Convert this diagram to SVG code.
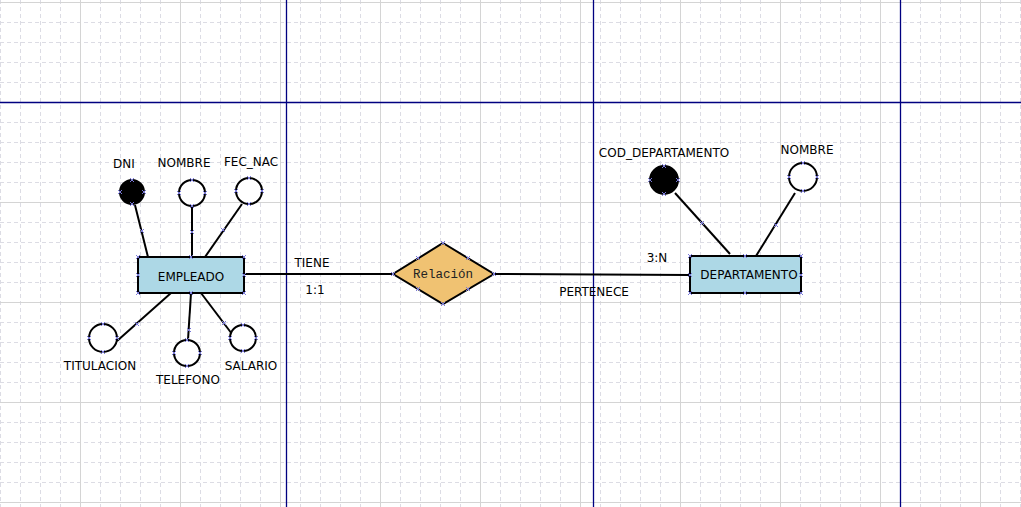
<svg xmlns="http://www.w3.org/2000/svg" xmlns:xlink="http://www.w3.org/1999/xlink" width="1021" height="507" viewBox="0 0 1021 507">
<style>
.gd{stroke:#dcdce4;stroke-width:1;stroke-dasharray:4,3;fill:none}
.gs{stroke:#d4d4d4;stroke-width:1;fill:none}
.gb{stroke:#000080;stroke-width:1.3;fill:none}
.ent{fill:#add8e6;stroke:#000;stroke-width:2}
.att{fill:#fff;stroke:#000;stroke-width:2}
.key{fill:#000;stroke:#000;stroke-width:2}
.rel{fill:#f0c272;stroke:#000;stroke-width:2}
.ln{stroke:#000;stroke-width:2;fill:none}
.t{font-family:"DejaVu Sans","Liberation Sans",sans-serif;font-size:12px;fill:#000;text-anchor:middle}
.m{font-family:"Liberation Mono","DejaVu Sans Mono",monospace;font-size:12.5px;fill:#222;text-anchor:middle}
.xm{stroke:#7a7ad8;stroke-width:1;fill:none}
</style>
<defs>
<path id="x" class="xm" d="M-2-2L2 2M-2 2L2-2"/>
</defs>
<rect width="1021" height="507" fill="#fff"/>
<g id="grid">
<path class="gd" d="M0.5 0V507M20.5 0V507M40.5 0V507M60.5 0V507M100.5 0V507M120.5 0V507M140.5 0V507M160.5 0V507M200.5 0V507M220.5 0V507M240.5 0V507M260.5 0V507M300.5 0V507M320.5 0V507M340.5 0V507M360.5 0V507M400.5 0V507M420.5 0V507M440.5 0V507M460.5 0V507M500.5 0V507M520.5 0V507M540.5 0V507M560.5 0V507M600.5 0V507M620.5 0V507M640.5 0V507M660.5 0V507M700.5 0V507M720.5 0V507M740.5 0V507M760.5 0V507M800.5 0V507M820.5 0V507M840.5 0V507M860.5 0V507M900.5 0V507M920.5 0V507M940.5 0V507M960.5 0V507M1000.5 0V507M1020.5 0V507"/>
<path class="gd" d="M0 22.5H1021M0 42.5H1021M0 62.5H1021M0 82.5H1021M0 122.5H1021M0 142.5H1021M0 162.5H1021M0 182.5H1021M0 222.5H1021M0 242.5H1021M0 262.5H1021M0 282.5H1021M0 322.5H1021M0 342.5H1021M0 362.5H1021M0 382.5H1021M0 422.5H1021M0 442.5H1021M0 462.5H1021M0 482.5H1021"/>
<path class="gs" d="M80.5 0V507M180.5 0V507M280.5 0V507M380.5 0V507M480.5 0V507M580.5 0V507M680.5 0V507M780.5 0V507M880.5 0V507M980.5 0V507M0 2.5H1021M0 202.5H1021M0 302.5H1021M0 402.5H1021M0 502.5H1021"/>
<path class="gb" d="M286.5 0V507M593.5 0V507M900.5 0V507M0 102.5H1021"/>
</g>
<g id="connectors">
<path class="ln" d="M135 205L148 257"/>
<path class="ln" d="M192 206V257"/>
<path class="ln" d="M242 204L205 257" stroke-width="1.6"/>
<path class="ln" d="M171 293L117 341"/>
<path class="ln" d="M191 293L188 340" stroke-width="2.4"/>
<path class="ln" d="M201 293L232 334" stroke-width="1.6"/>
<path class="ln" d="M244 274H393"/>
<path class="ln" d="M494 274L690 275"/>
<path class="ln" d="M675 193L730 254"/>
<path class="ln" d="M795 193L756 256" stroke-width="1.6"/>
<use xlink:href="#x" x="142" y="231"/>
<use xlink:href="#x" x="192" y="232"/>
<use xlink:href="#x" x="223" y="230"/>
<use xlink:href="#x" x="137" y="324"/>
<use xlink:href="#x" x="189" y="330"/>
<use xlink:href="#x" x="224" y="323"/>
<use xlink:href="#x" x="702" y="223"/>
<use xlink:href="#x" x="776" y="225"/>
</g>
<g id="empleado">
<rect class="ent" x="138" y="257" width="106" height="36"/>
<text class="t" x="191" y="281">EMPLEADO</text>
<use xlink:href="#x" x="138" y="257"/><use xlink:href="#x" x="191" y="257"/><use xlink:href="#x" x="244" y="257"/>
<use xlink:href="#x" x="138" y="275"/><use xlink:href="#x" x="244" y="275"/>
<use xlink:href="#x" x="138" y="293"/><use xlink:href="#x" x="191" y="293"/><use xlink:href="#x" x="244" y="293"/>
</g>
<g id="dni">
<circle class="key" cx="132" cy="192" r="12"/>
<text class="t" x="124" y="168">DNI</text>
<use xlink:href="#x" x="132" y="180"/><use xlink:href="#x" x="120" y="192"/><use xlink:href="#x" x="144" y="192"/><use xlink:href="#x" x="132" y="204"/>
</g>
<g id="nombre-emp">
<circle class="att" cx="192" cy="193" r="13"/>
<text class="t" x="184" y="167">NOMBRE</text>
<use xlink:href="#x" x="192" y="180"/><use xlink:href="#x" x="179" y="193"/><use xlink:href="#x" x="205" y="193"/><use xlink:href="#x" x="192" y="206"/>
</g>
<g id="fec-nac">
<circle class="att" cx="249" cy="191" r="13"/>
<text class="t" x="251" y="166">FEC_NAC</text>
<use xlink:href="#x" x="249" y="178"/><use xlink:href="#x" x="236" y="191"/><use xlink:href="#x" x="262" y="191"/><use xlink:href="#x" x="249" y="204"/>
</g>
<g id="titulacion">
<circle class="att" cx="103" cy="338" r="14"/>
<text class="t" x="100" y="370">TITULACION</text>
<use xlink:href="#x" x="103" y="324"/><use xlink:href="#x" x="89" y="338"/><use xlink:href="#x" x="117" y="338"/><use xlink:href="#x" x="103" y="352"/>
</g>
<g id="telefono">
<circle class="att" cx="187" cy="353" r="13"/>
<text class="t" x="188" y="384">TELEFONO</text>
<use xlink:href="#x" x="187" y="340"/><use xlink:href="#x" x="174" y="353"/><use xlink:href="#x" x="200" y="353"/><use xlink:href="#x" x="187" y="366"/>
</g>
<g id="salario">
<circle class="att" cx="243" cy="338" r="13"/>
<text class="t" x="251" y="370">SALARIO</text>
<use xlink:href="#x" x="243" y="325"/><use xlink:href="#x" x="230" y="338"/><use xlink:href="#x" x="256" y="338"/><use xlink:href="#x" x="243" y="351"/>
</g>
<g id="relacion">
<path class="rel" d="M443 243L494 274L443 304L393 274Z"/>
<text class="m" x="443" y="278">Relación</text>
<use xlink:href="#x" x="443" y="243"/><use xlink:href="#x" x="393" y="274"/><use xlink:href="#x" x="494" y="274"/><use xlink:href="#x" x="443" y="304"/>
<use xlink:href="#x" x="418" y="258"/><use xlink:href="#x" x="468" y="258"/><use xlink:href="#x" x="418" y="289"/><use xlink:href="#x" x="468" y="289"/>
</g>
<g id="labels">
<text class="t" x="312" y="267">TIENE</text>
<text class="t" x="315" y="294">1:1</text>
<text class="t" x="594" y="296">PERTENECE</text>
<text class="t" x="657" y="262">3:N</text>
</g>
<g id="departamento">
<rect class="ent" x="690" y="256" width="111" height="37"/>
<text class="t" x="749" y="279">DEPARTAMENTO</text>
<use xlink:href="#x" x="690" y="256"/><use xlink:href="#x" x="745" y="256"/><use xlink:href="#x" x="801" y="256"/>
<use xlink:href="#x" x="690" y="275"/><use xlink:href="#x" x="801" y="275"/>
<use xlink:href="#x" x="690" y="293"/><use xlink:href="#x" x="745" y="293"/><use xlink:href="#x" x="801" y="293"/>
</g>
<g id="cod-departamento">
<circle class="key" cx="664" cy="180" r="14"/>
<text class="t" x="664" y="157">COD_DEPARTAMENTO</text>
<use xlink:href="#x" x="664" y="166"/><use xlink:href="#x" x="650" y="180"/><use xlink:href="#x" x="678" y="180"/><use xlink:href="#x" x="664" y="194"/>
</g>
<g id="nombre-dep">
<circle class="att" cx="803" cy="177" r="14"/>
<text class="t" x="807" y="154">NOMBRE</text>
<use xlink:href="#x" x="803" y="163"/><use xlink:href="#x" x="789" y="177"/><use xlink:href="#x" x="817" y="177"/><use xlink:href="#x" x="803" y="191"/>
</g>
</svg>
